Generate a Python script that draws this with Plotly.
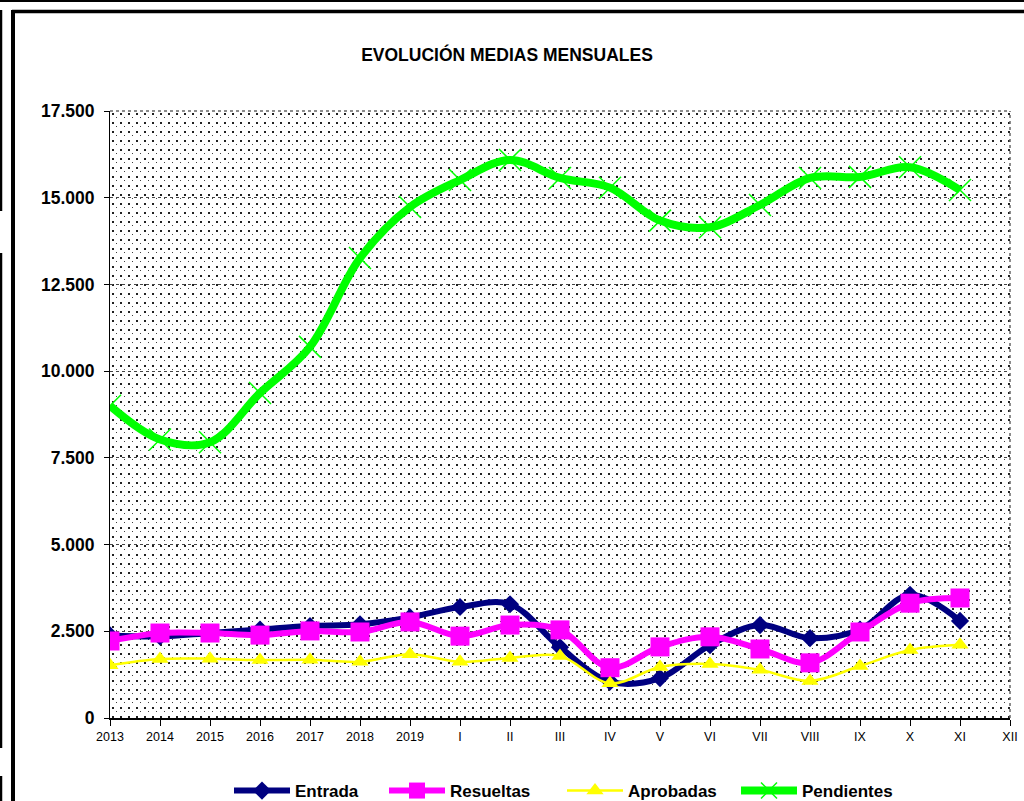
import base64
import plotly.graph_objects as go

categories = ["2013", "2014", "2015", "2016", "2017", "2018", "2019",
              "I", "II", "III", "IV", "V", "VI", "VII", "VIII", "IX", "X", "XI", "XII"]

entrada = [2380, 2350, 2450, 2550, 2650, 2700, 2900, 3200, 3280, 2040,
           1050, 1150, 2100, 2680, 2300, 2550, 3550, 2800]
resueltas = [2220, 2450, 2450, 2390, 2510, 2480, 2770, 2360, 2680, 2540,
             1450, 2050, 2340, 1990, 1590, 2480, 3310, 3460]
aprobadas = [1520, 1700, 1710, 1670, 1680, 1620, 1840, 1620, 1730, 1790,
             1000, 1470, 1560, 1390, 1070, 1500, 1960, 2110]
pendientes = [9000, 8030, 7950, 9370, 10700, 13260, 14730, 15510, 16090, 15570,
              15290, 14340, 14150, 14790, 15570, 15600, 15880, 15220]

y_ticks = [0, 2500, 5000, 7500, 10000, 12500, 15000, 17500]

W, H = 1024, 801
L, R, T, B = 110, 1010, 111, 718


def px(x):
    return (x - L) / (R - L)


def py(y):
    return (B - y) / (B - T)


xpos = list(range(len(categories)))

fig = go.Figure()
fig.add_trace(go.Scatter(
    x=xpos[:len(entrada)], y=entrada, name="Entrada", mode="lines+markers",
    line=dict(color="#000080", width=6, shape="spline", smoothing=1.0),
    marker=dict(symbol="diamond", size=14, color="#000080")))
fig.add_trace(go.Scatter(
    x=xpos[:len(resueltas)], y=resueltas, name="Resueltas", mode="lines+markers",
    line=dict(color="#FF00FF", width=6, shape="spline", smoothing=1.0),
    marker=dict(symbol="square", size=19, color="#FF00FF")))
fig.add_trace(go.Scatter(
    x=xpos[:len(aprobadas)], y=aprobadas, name="Aprobadas", mode="lines+markers",
    line=dict(color="#FFFF00", width=2.5, shape="spline", smoothing=1.0),
    marker=dict(symbol="triangle-up", size=15, color="#FFFF00")))
fig.add_trace(go.Scatter(
    x=xpos[:len(pendientes)], y=pendientes, name="Pendientes", mode="lines+markers",
    line=dict(color="#00FF00", width=8, shape="spline", smoothing=1.0),
    marker=dict(symbol="x-thin", size=22, color="#00FF00",
                line=dict(color="#00FF00", width=1.5))))

ITEMW = 56
TEXTGAP = ITEMW + 10
# legend spacing per entry (distance between entries minus text gap and item gap)
for tr, dist in zip(fig.data, [155, 178, 174, 180]):
    tr.legendwidth = dist - TEXTGAP - 5

# dotted background pattern
svg = ("<svg xmlns='http://www.w3.org/2000/svg' width='900' height='607' shape-rendering='crispEdges'>"
       "<defs><pattern id='p' width='8' height='9' patternUnits='userSpaceOnUse'>"
       "<rect x='2' y='2' width='2' height='2' fill='#202020'/>"
       "<rect x='6' y='6' width='1' height='1' fill='#404040'/>"
       "</pattern></defs><rect width='900' height='607' fill='url(#p)'/></svg>")
src = "data:image/svg+xml;base64," + base64.b64encode(svg.encode()).decode()

shapes = []
# plot top / right dotted borders
shapes.append(dict(type="line", xref="paper", yref="paper", x0=0, x1=1, y0=1, y1=1,
                   line=dict(color="#666", width=1.5, dash="dot")))
shapes.append(dict(type="line", xref="paper", yref="paper", x0=1, x1=1, y0=0, y1=1,
                   line=dict(color="#666", width=1.5, dash="dot")))
# outer frame lines
frame = [
    (0, 1, W, 1, 2),
    (12, 11.5, W, 11.5, 3.5),
    (13, 10, 13, H, 4),
    (1, 10, 1, 211, 2.5),
    (1, 253, 1, 748, 2.5),
    (1, 776, 1, H, 2.5),
]
for x0, y0, x1, y1, w in frame:
    shapes.append(dict(type="line", xref="paper", yref="paper",
                       x0=px(x0), y0=py(y0), x1=px(x1), y1=py(y1),
                       line=dict(color="black", width=w)))

fig.update_layout(
    width=W, height=H,
    margin=dict(l=L, r=W - R, t=T, b=H - B, autoexpand=False),
    paper_bgcolor="white", plot_bgcolor="rgba(0,0,0,0)",
    separators=",.",
    font=dict(family="Liberation Sans, Arial, sans-serif", color="black"),
    title=dict(text="EVOLUCIÓN MEDIAS MENSUALES", x=507 / W, xanchor="center",
               y=1 - 55 / H, yanchor="middle", xref="container",
               font=dict(family="Liberation Sans Narrow, Arial Narrow, Liberation Sans",
                         size=17.5, weight="bold", color="black")),
    xaxis=dict(range=[0, 18], tickmode="array", tickvals=xpos, ticktext=categories,
               showgrid=False, zeroline=False, showline=True, linecolor="black", linewidth=1.5,
               ticks="outside", ticklen=6, tickcolor="black", tickwidth=1,
               tickfont=dict(size=12.5, color="black")),
    yaxis=dict(range=[0, 17500], tickmode="array", tickvals=y_ticks, tickformat=",d",
               showgrid=True, gridcolor="#444", griddash="dot", gridwidth=1,
               zeroline=False, showline=True, linecolor="black", linewidth=1,
               ticks="outside", ticklen=5, tickcolor="black", ticklabelstandoff=6,
               tickfont=dict(size=17.5, weight="bold", color="black")),
    legend=dict(orientation="h", x=px(229), xanchor="left", y=py(791), yanchor="middle",
                font=dict(size=17, weight="bold", color="black"), itemwidth=ITEMW,
                bgcolor="rgba(0,0,0,0)", traceorder="normal"),
    images=[dict(source=src, xref="paper", yref="paper", x=0, y=1, sizex=1, sizey=1,
                 xanchor="left", yanchor="top", sizing="stretch", layer="below")],
    shapes=shapes,
)

fig.write_html(
    "out.html",
    config={"displayModeBar": False},
    post_script="document.body.style.margin='0';document.body.style.overflow='hidden';",
)
